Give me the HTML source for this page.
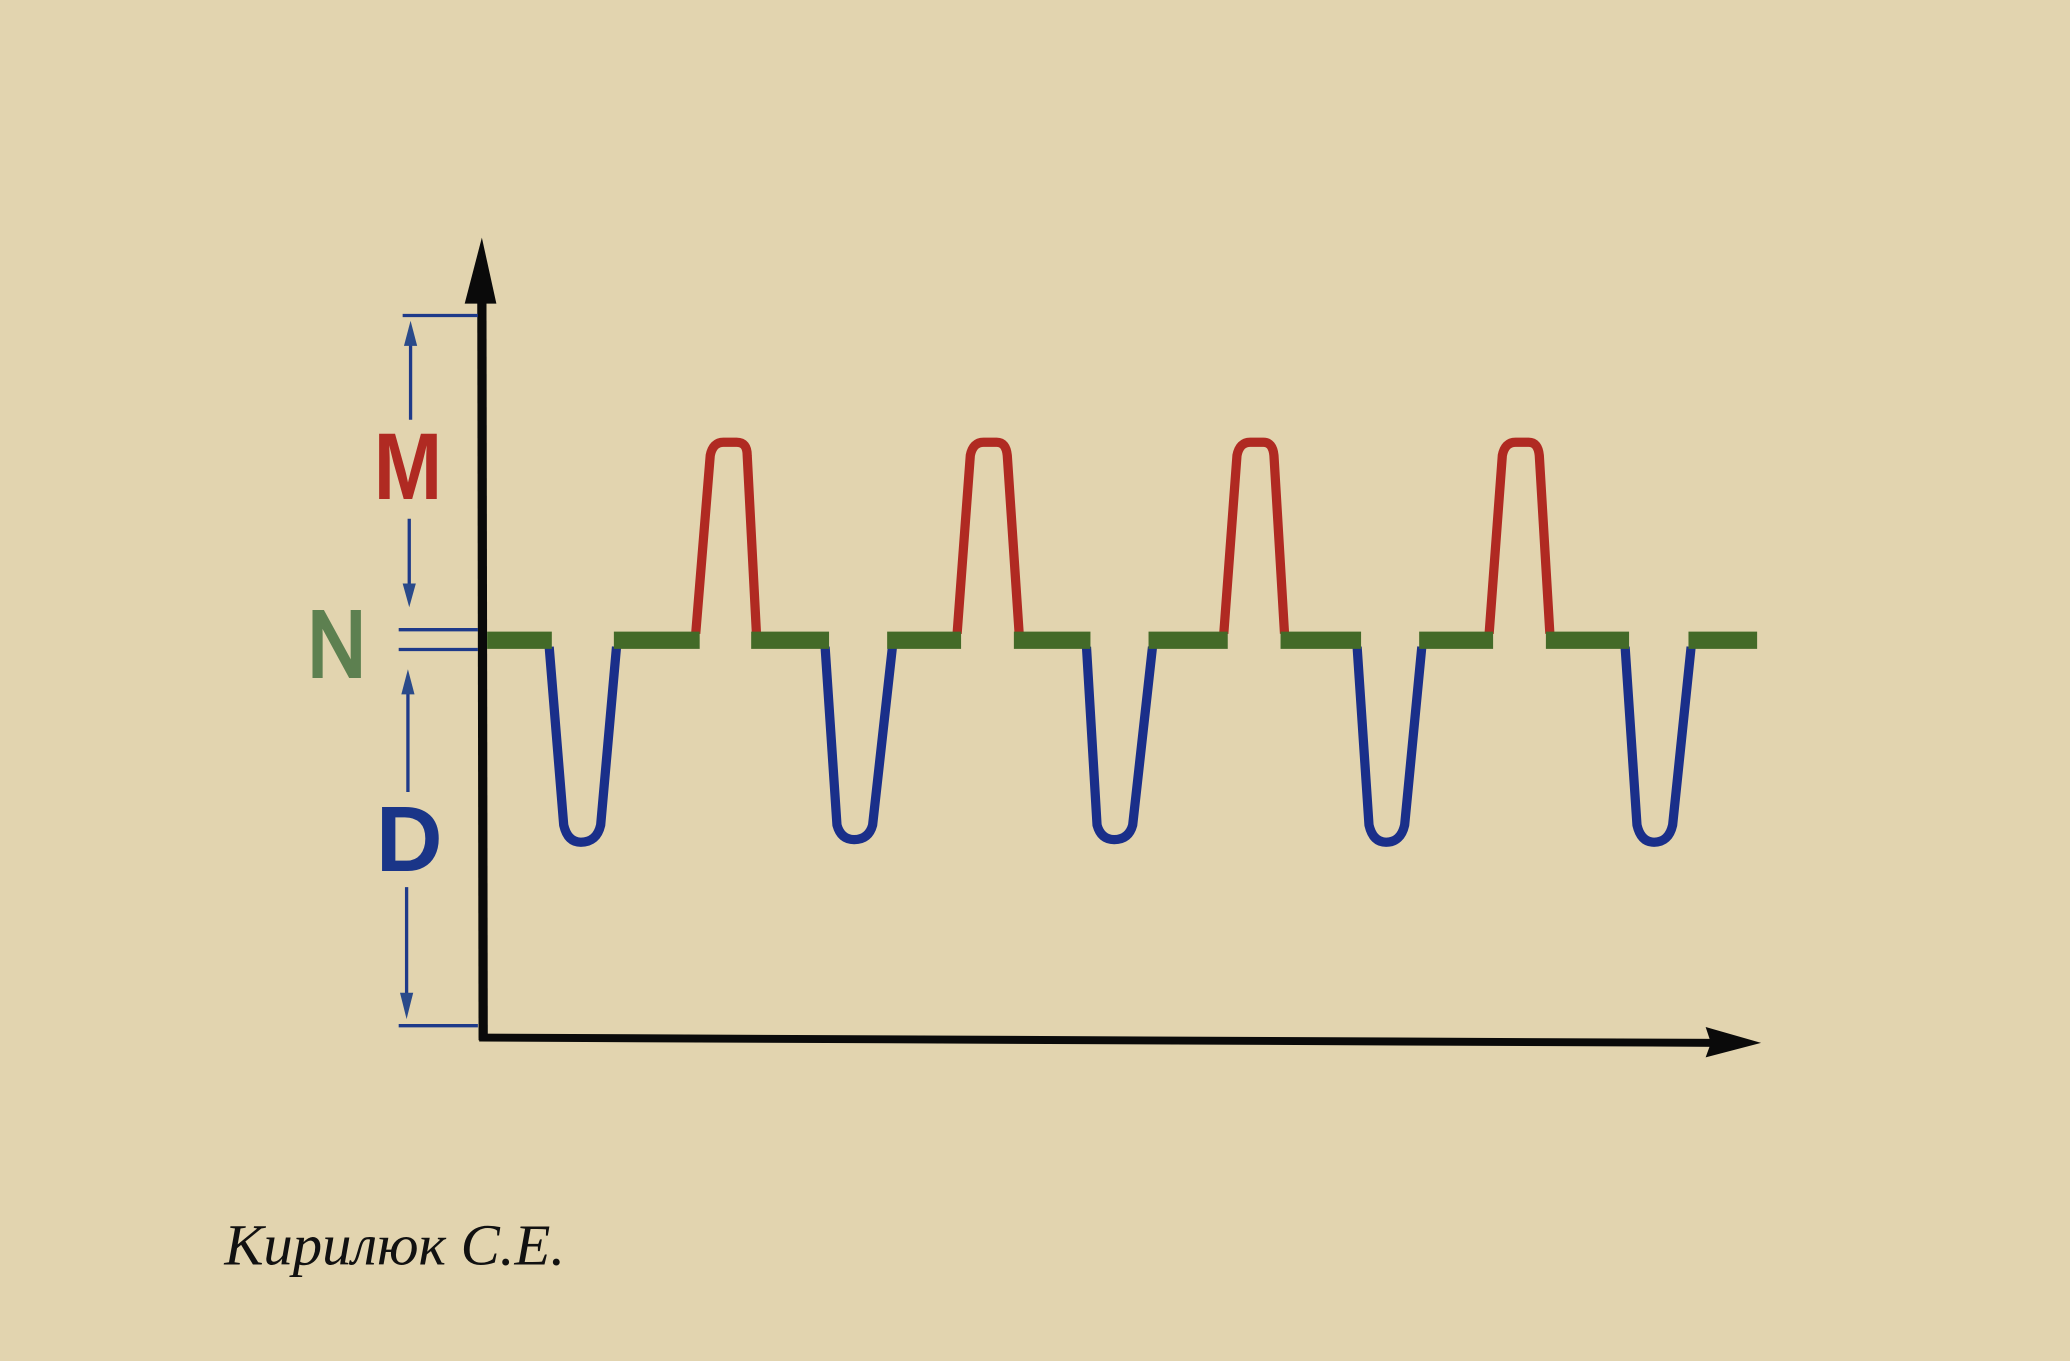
<!DOCTYPE html>
<html><head><meta charset="utf-8"><style>
html,body{margin:0;padding:0;background:#e2d4af;}
svg{display:block;}
</style></head><body>
<svg width="2070" height="1361" viewBox="0 0 1568 1031" preserveAspectRatio="none" xmlns="http://www.w3.org/2000/svg">
<rect width="1568" height="1031" fill="#e2d4af"/>
<line x1="365" y1="225" x2="366" y2="788" stroke="#0a0a0a" stroke-width="7"/>
<polygon points="365,180 352,230 376,230" fill="#0a0a0a"/>
<line x1="363" y1="786" x2="1300" y2="790" stroke="#0a0a0a" stroke-width="6"/>
<polygon points="1334,790 1292,778 1296,790 1292,801" fill="#0a0a0a"/>
<g stroke="#1e3a8a" stroke-width="2.5" fill="none">
<line x1="305" y1="239" x2="362" y2="239"/>
<line x1="302" y1="477" x2="362" y2="477"/>
<line x1="302" y1="492" x2="362" y2="492"/>
<line x1="302" y1="777" x2="362" y2="777"/>
<line x1="311" y1="250" x2="311" y2="318"/>
<line x1="310" y1="393" x2="310" y2="450"/>
<line x1="309" y1="515" x2="309" y2="600"/>
<line x1="308" y1="672" x2="308" y2="765"/>
</g>
<g fill="#2a4a8a">
<polygon points="311,243 306,262 316,262"/>
<polygon points="310,460 305,442 315,442"/>
<polygon points="309,507 304,526 314,526"/>
<polygon points="308,772 303,752 313,752"/>
</g>
<text x="309" y="378" font-family="Liberation Sans, sans-serif" font-weight="bold" font-size="72" fill="#b02a22" text-anchor="middle" textLength="52" lengthAdjust="spacingAndGlyphs">M</text>
<text x="255" y="512" font-family="Liberation Sans, sans-serif" font-size="70" fill="#5d8050" stroke="#5d8050" stroke-width="3" text-anchor="middle" textLength="44" lengthAdjust="spacingAndGlyphs">N</text>
<text x="310" y="660" font-family="Liberation Sans, sans-serif" font-weight="bold" font-size="70" fill="#1a3588" text-anchor="middle">D</text>
<g stroke="#b02a22" stroke-width="7" fill="none" stroke-linejoin="round">
<path d="M527,480 L538,345 Q540,335 548,335 L558,335 Q566,335 566,345 L573,480"/>
<path d="M725,480 L735,345 Q737,335 745,335 L755,335 Q762,335 763,345 L772,480"/>
<path d="M927,480 L937,345 Q939,335 947,335 L957,335 Q964,335 965,345 L973,480"/>
<path d="M1128,480 L1138,345 Q1140,335 1148,335 L1158,335 Q1165,335 1166,345 L1174,480"/>
</g>
<g stroke="#1a2f8a" stroke-width="7" fill="none" stroke-linejoin="round">
<path d="M416,490 L427,625 Q430,638 440,638 Q452,638 455,625 L467,490"/>
<path d="M625,490 L634,625 Q637,636 647,636 Q658,636 661,625 L676,490"/>
<path d="M823,490 L831,625 Q834,636 844,636 Q855,636 858,625 L873,490"/>
<path d="M1028,490 L1037,625 Q1040,638 1050,638 Q1061,638 1064,625 L1077,490"/>
<path d="M1231,490 L1240,625 Q1243,638 1253,638 Q1264,638 1267,625 L1281,490"/>
</g>
<g stroke="#436a28" stroke-width="13" fill="none">
<line x1="369" y1="485" x2="418" y2="485"/>
<line x1="465" y1="485" x2="530" y2="485"/>
<line x1="569" y1="485" x2="628" y2="485"/>
<line x1="672" y1="485" x2="728" y2="485"/>
<line x1="768" y1="485" x2="826" y2="485"/>
<line x1="870" y1="485" x2="930" y2="485"/>
<line x1="970" y1="485" x2="1031" y2="485"/>
<line x1="1075" y1="485" x2="1131" y2="485"/>
<line x1="1171" y1="485" x2="1234" y2="485"/>
<line x1="1279" y1="485" x2="1331" y2="485"/>
</g>
<text x="170" y="958" font-family="Liberation Serif, serif" font-style="italic" font-size="44" fill="#111" textLength="258" lengthAdjust="spacingAndGlyphs">Кирилюк С.Е.</text>
</svg>
</body></html>
